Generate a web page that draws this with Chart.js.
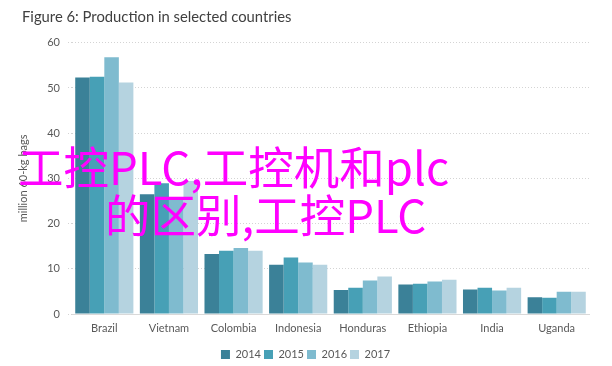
<!DOCTYPE html>
<html>
<head>
<meta charset="utf-8">
<script src="https://cdn.jsdelivr.net/npm/chart.js@4/dist/chart.umd.min.js"></script>
<style>
  html, body { margin: 0; padding: 0; background: #fff; }
  #wrap { position: relative; width: 612px; height: 366px; }
  .mark {
    position: absolute;
    font-family: "Noto Sans CJK SC", sans-serif;
    font-size: 45.5px;
    line-height: 46px;
    color: #ff00ff;
    white-space: nowrap;
  }
</style>
</head>
<body>
<div id="wrap">
  <canvas id="productionChart" width="612" height="366"></canvas>
  <div class="mark" style="left:18px; top:142px;">工控PLC,工控机和plc</div>
  <div class="mark" style="left:105px; top:190px;">的区别,工控PLC</div>
</div>
<script>
const countries = ['Brazil', 'Vietnam', 'Colombia', 'Indonesia', 'Honduras', 'Ethiopia', 'India', 'Uganda']
const years = ['2014', '2015', '2016', '2017']
const prod2014 = [52.3, 26.5, 13.3, 10.9, 5.3, 6.5, 5.4, 3.7]
const prod2015 = [52.5, 28.9, 14.0, 12.5, 5.8, 6.7, 5.8, 3.6]
const prod2016 = [56.8, 25.8, 14.6, 11.4, 7.4, 7.2, 5.2, 4.9]
const prod2017 = [51.2, 29.4, 14.0, 10.9, 8.3, 7.6, 5.8, 4.9]
const yTicks = [0, 10, 20, 30, 40, 50, 60]
const colors = ['#3b8198', '#47a0b6', '#7fbbcf', '#b5d3e0']

const seriesValues = [prod2014, prod2015, prod2016, prod2017]
const textColor = '#595959'
const fontFamily = 'Lato, "Open Sans", sans-serif'

const ctx = document.getElementById('productionChart')
const chart = new Chart(ctx, {
  type: 'bar',
  data: {
    labels: countries,
    datasets: years.map((year, i) => ({
      label: year,
      data: seriesValues[i],
      backgroundColor: colors[i],
      borderWidth: 0,
      barPercentage: 1.0,
      categoryPercentage: 0.9
    }))
  },
  options: {
    responsive: false,
    animation: false,
    layout: { padding: { left: 22, right: 23, top: 0, bottom: -4 } },
    scales: {
      x: {
        afterFit: axis => { axis.height = 32 },
        grid: { display: false, drawTicks: false, tickLength: 0 },
        border: { display: true, color: '#d9d9d9' },
        ticks: { color: textColor, font: { family: fontFamily, size: 11 }, padding: 8 }
      },
      y: {
        min: 0,
        max: 60,
        afterBuildTicks: axis => { axis.ticks = yTicks.map(v => ({ value: v })) },
        afterFit: axis => { axis.width = 50 },
        grid: { color: '#d4d4d4', tickLength: 4, tickBorderDash: [1, 2] },
        border: { display: false, dash: [1, 2] },
        ticks: { color: textColor, font: { family: fontFamily, size: 11 }, padding: 8 },
        title: {
          display: true,
          text: 'million 60-kg bags',
          color: textColor,
          font: { family: fontFamily, size: 11 },
          padding: { top: -5, bottom: 0 }
        }
      }
    },
    plugins: {
      title: {
        display: true,
        text: 'Figure 6: Production in selected countries',
        align: 'start',
        color: '#404040',
        font: { family: fontFamily, size: 14.8, weight: 'normal' },
        padding: { top: 8, bottom: 17 }
      },
      legend: {
        position: 'bottom',
        labels: {
          color: textColor,
          font: { family: fontFamily, size: 11 },
          boxWidth: 9,
          boxHeight: 9,
          padding: 3
        }
      },
      tooltip: { enabled: false }
    }
  }
})
</script>
</body>
</html>
